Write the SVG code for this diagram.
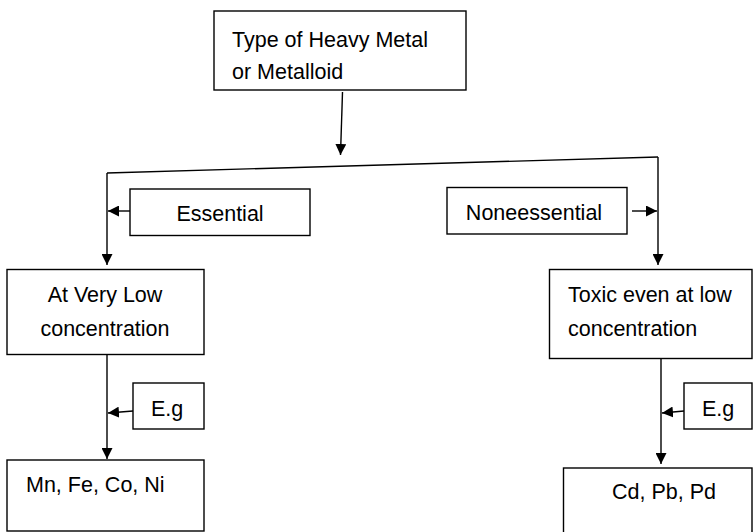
<svg xmlns="http://www.w3.org/2000/svg" width="753" height="532" viewBox="0 0 753 532">
<style>
.box{fill:#fff;stroke:#000;stroke-width:1.4}
.t{font-family:"Liberation Sans",Arial,sans-serif;font-size:21.5px;fill:#000}
.c{text-anchor:middle}
.ln{fill:none;stroke:#000;stroke-width:1.4}
</style>
<defs>
<marker id="ah" markerUnits="userSpaceOnUse" markerWidth="11" markerHeight="11" refX="10" refY="5" orient="auto" viewBox="0 0 10 10">
<path d="M0,0 L10,5 L0,10 z" fill="#000"/>
</marker>
</defs>
<rect width="753" height="532" fill="#fff"/>
<g id="connectors">
<path class="ln" d="M342.5,92 L340.5,155" marker-end="url(#ah)"/>
<path class="ln" d="M107,173 L658,157"/>
<path class="ln" d="M107,173 L107,265" marker-end="url(#ah)"/>
<path class="ln" d="M658,157 L658,265" marker-end="url(#ah)"/>
<path class="ln" d="M130,211 L108,211" marker-end="url(#ah)"/>
<path class="ln" d="M632,211 L657,211" marker-end="url(#ah)"/>
<path class="ln" d="M107,354 L107,459" marker-end="url(#ah)"/>
<path class="ln" d="M133,411 L108,413" marker-end="url(#ah)"/>
<path class="ln" d="M661,358 L661,464" marker-end="url(#ah)"/>
<path class="ln" d="M684,411 L662,413" marker-end="url(#ah)"/>
</g>
<g id="top">
<rect class="box" x="214" y="11" width="252" height="79"/>
<text class="t" x="232" y="47">Type of Heavy Metal</text>
<text class="t" x="232" y="79">or Metalloid</text>
</g>
<g id="essential">
<rect class="box" x="130" y="189" width="180" height="46.5"/>
<text class="t c" x="220" y="221">Essential</text>
</g>
<g id="nonessential">
<rect class="box" x="447" y="187.5" width="180" height="46.5"/>
<text class="t c" x="534" y="220">Noneessential</text>
</g>
<g id="low">
<rect class="box" x="7" y="269.5" width="197" height="85"/>
<text class="t c" x="105" y="302">At Very Low</text>
<text class="t c" x="105" y="336">concentration</text>
</g>
<g id="toxic">
<rect class="box" x="549.5" y="269.5" width="202.5" height="89"/>
<text class="t" x="568" y="302">Toxic even at low</text>
<text class="t" x="568" y="336">concentration</text>
</g>
<g id="eg-left">
<rect class="box" x="133" y="383" width="71" height="46"/>
<text class="t" x="151" y="416">E.g</text>
</g>
<g id="eg-right">
<rect class="box" x="684" y="383" width="68" height="46"/>
<text class="t" x="702" y="416">E.g</text>
</g>
<g id="essential-ex">
<rect class="box" x="7" y="460" width="197" height="71"/>
<text class="t" x="26" y="492">Mn, Fe, Co, Ni</text>
</g>
<g id="toxic-ex">
<rect class="box" x="563.5" y="468" width="188.5" height="80"/>
<text class="t" x="612" y="499">Cd, Pb, Pd</text>
</g>
</svg>
